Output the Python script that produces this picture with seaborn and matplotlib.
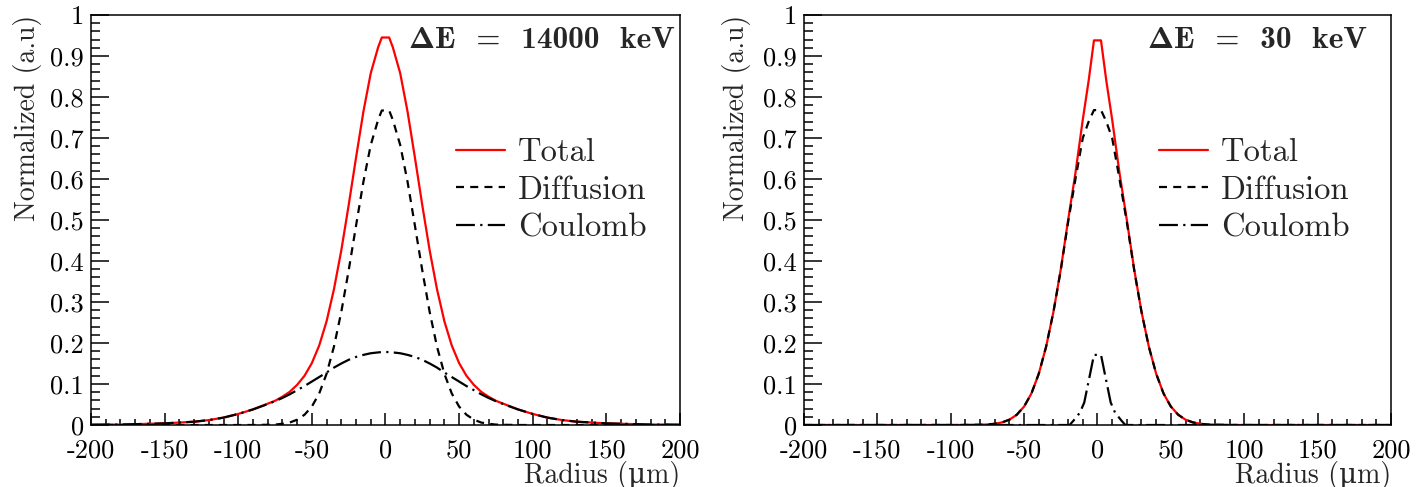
import matplotlib
matplotlib.use("Agg")
import numpy as np
import pandas as pd
import matplotlib.pyplot as plt
import seaborn as sns
from matplotlib.ticker import MultipleLocator, FuncFormatter

# -------------------------
# Data
# -------------------------
# left panel : dE = 14000 keV (broad Coulomb part)
x_left = [-200, -190, -180, -170, -160, -150, -140, -130, -120, -110, -100, -90,
          -80, -75, -70, -65, -60, -55, -50, -45, -40, -35, -30, -25, -20, -15, -10, -5, -2.5,
          2.5, 5, 10, 15, 20, 25, 30, 35, 40, 45, 50, 55, 60, 65, 70, 75, 80,
          90, 100, 110, 120, 130, 140, 150, 160, 170, 180, 190, 200]
total_left = [0.0005, 0.001, 0.001, 0.002, 0.003, 0.004, 0.006, 0.008, 0.012, 0.018, 0.027, 0.038,
              0.052, 0.059, 0.069, 0.081, 0.098, 0.120, 0.151, 0.194, 0.253, 0.331, 0.426, 0.536,
              0.652, 0.764, 0.858, 0.921, 0.945,
              0.945, 0.921, 0.858, 0.764, 0.652, 0.536, 0.426, 0.331, 0.253, 0.194, 0.151, 0.120, 0.098,
              0.081, 0.069, 0.059, 0.052,
              0.038, 0.027, 0.018, 0.012, 0.008, 0.006, 0.004, 0.003, 0.002, 0.001, 0.001, 0.0005]
diffusion_left = [0, 0, 0, 0, 0, 0, 0, 0, 0, 0, 0, 0,
                  0.0006, 0.001, 0.003, 0.006, 0.013, 0.025, 0.045, 0.077, 0.125, 0.191, 0.276, 0.377,
                  0.486, 0.593, 0.683, 0.744, 0.767,
                  0.767, 0.744, 0.683, 0.593, 0.486, 0.377, 0.276, 0.191, 0.125, 0.077, 0.045, 0.025, 0.013,
                  0.006, 0.003, 0.001, 0.0006,
                  0, 0, 0, 0, 0, 0, 0, 0, 0, 0, 0, 0]
coulomb_left = [0.0005, 0.001, 0.001, 0.002, 0.003, 0.004, 0.006, 0.008, 0.012, 0.018, 0.027, 0.038,
                0.051, 0.058, 0.066, 0.075, 0.085, 0.095, 0.106, 0.117, 0.128, 0.140, 0.150, 0.159,
                0.166, 0.171, 0.175, 0.177, 0.178,
                0.178, 0.177, 0.175, 0.171, 0.166, 0.159, 0.150, 0.140, 0.128, 0.117, 0.106, 0.095, 0.085,
                0.075, 0.066, 0.058, 0.051,
                0.038, 0.027, 0.018, 0.012, 0.008, 0.006, 0.004, 0.003, 0.002, 0.001, 0.001, 0.0005]

# right panel : dE = 30 keV (narrow Coulomb part)
x_right = [-200, -180, -160, -140, -120, -100, -90, -80, -75, -70, -65, -60, -55, -50, -45, -40,
           -35, -30, -25, -20, -15, -10, -6, -2.4,
           2.4, 6, 10, 15, 20, 25, 30, 35,
           40, 45, 50, 55, 60, 65, 70, 75, 80, 90, 100, 120, 140, 160, 180, 200]
total_right = [0, 0, 0, 0, 0, 0, 0.0001, 0.0006, 0.0013, 0.003, 0.0064, 0.013, 0.025, 0.045, 0.077, 0.125,
               0.191, 0.276, 0.380, 0.500, 0.615, 0.745, 0.840, 0.938,
               0.938, 0.840, 0.745, 0.615, 0.500, 0.380, 0.276, 0.191,
               0.125, 0.077, 0.045, 0.025, 0.013, 0.0064, 0.003, 0.0013, 0.0006, 0.0001, 0, 0, 0, 0, 0, 0]
diffusion_right = [0, 0, 0, 0, 0, 0, 0.0001, 0.0006, 0.0013, 0.003, 0.0064, 0.013, 0.025, 0.045, 0.077, 0.125,
                   0.191, 0.276, 0.378, 0.495, 0.600, 0.700, 0.740, 0.768,
                   0.768, 0.740, 0.700, 0.600, 0.495, 0.378, 0.276, 0.191,
                   0.125, 0.077, 0.045, 0.025, 0.013, 0.0064, 0.003, 0.0013, 0.0006, 0.0001, 0, 0, 0, 0, 0, 0]
x_coulomb_right = [-200, -19, -16.5, -12, -9, -5, -2.4, 2.4, 5, 9, 12, 16.5, 19, 200]
coulomb_right = [0, 0, 0.01, 0.03, 0.055, 0.125, 0.171, 0.171, 0.125, 0.055, 0.03, 0.01, 0, 0]

# "\u00a2" is where the bold Computer Modern font keeps its capital Delta
panel_titles = ["\u00a2E  =  14000  keV", "\u00a2E  =  30  keV"]

# -------------------------
# Style (ROOT-like look)
# -------------------------
sns.set_style("ticks")
plt.rcParams["font.family"] = ["cmr10", "DejaVu Serif"]
plt.rcParams["mathtext.fontset"] = "cm"
plt.rcParams["axes.unicode_minus"] = False
plt.rcParams["axes.linewidth"] = 1.1
plt.rcParams["axes.edgecolor"] = "black"

fig = plt.figure(figsize=(14.24, 4.87), dpi=100)
ax1 = fig.add_axes([0.0639, 0.1273, 0.4136, 0.842])
ax2 = fig.add_axes([0.5646, 0.1273, 0.4122, 0.842])

panels = [
    (ax1, x_left, total_left, diffusion_left, x_left, coulomb_left),
    (ax2, x_right, total_right, diffusion_right, x_coulomb_right, coulomb_right),
]

for i, (ax, xs, tot, dif, xc, cou) in enumerate(panels):
    sns.lineplot(x=xs, y=tot, ax=ax, color="#ff0000", linewidth=1.6, label="Total",
                 estimator=None, sort=False)
    sns.lineplot(x=xs, y=dif, ax=ax, color="black", linewidth=1.6, label="Diffusion",
                 estimator=None, sort=False, linestyle=(0, (3.6, 2.8)))
    sns.lineplot(x=xc, y=cou, ax=ax, color="black", linewidth=1.6, label="Coulomb",
                 estimator=None, sort=False, linestyle=(0, (8.5, 2.4, 1.0, 2.4)))

    ax.set_xlim(-200, 200)
    ax.set_ylim(0, 1)
    ax.xaxis.set_major_locator(MultipleLocator(50))
    ax.xaxis.set_minor_locator(MultipleLocator(10))
    ax.yaxis.set_major_locator(MultipleLocator(0.1))
    ax.yaxis.set_minor_locator(MultipleLocator(0.02))
    fmt = FuncFormatter(lambda v, p: f"{v:g}")
    ax.xaxis.set_major_formatter(fmt)
    ax.yaxis.set_major_formatter(fmt)

    ax.tick_params(axis="both", which="both", direction="in", top=False, right=False,
                   labelsize=19, width=1.1, colors="black")
    ax.tick_params(axis="x", which="major", length=9, pad=10)
    ax.tick_params(axis="x", which="minor", length=4.5)
    ax.tick_params(axis="y", which="major", length=13, pad=5)
    ax.tick_params(axis="y", which="minor", length=6.5)
    for s in ax.spines.values():
        s.set_visible(True)

    ax.set_xlabel("Radius (\u03bcm)", fontsize=20, loc="right")
    ax.xaxis.set_label_coords(1.0, -0.087)
    ax.set_ylabel("Normalized (a.u)", fontsize=20, loc="top")

    leg_x = 0.62 if i == 0 else 0.605
    ax.legend(loc="upper left", bbox_to_anchor=(leg_x, 0.70), frameon=False, fontsize=23.5,
              handlelength=1.5, handletextpad=0.4, labelspacing=0.26, borderpad=0, borderaxespad=0)

    tx = 0.992 if i == 0 else 0.959
    ax.text(tx, 0.937, panel_titles[i], transform=ax.transAxes, ha="right", va="center",
            fontsize=22.5, family=["cmb10", "DejaVu Serif"], fontweight="bold")

ax1.yaxis.set_label_coords(-0.083, 1.0)
ax2.yaxis.set_label_coords(-0.09, 1.0)

fig.savefig("out.png", dpi=100)
